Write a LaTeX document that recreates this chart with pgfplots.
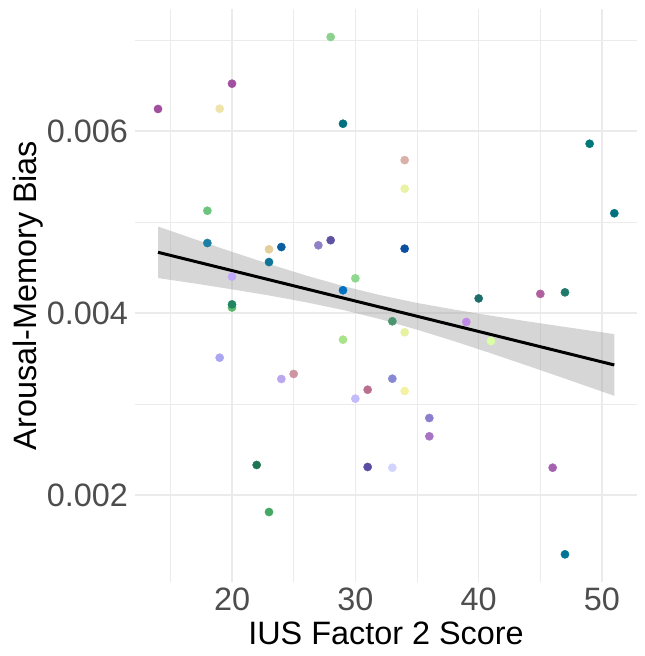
\documentclass[border=0pt]{standalone}
\usepackage{fontspec}
\setmainfont{Liberation Sans}
\usepackage{pgfplots}
\pgfplotsset{compat=1.18}
\definecolor{gridc}{HTML}{EBEBEB}
\definecolor{tickc}{HTML}{4D4D4D}
\definecolor{bandc}{HTML}{999999}
\definecolor{p01}{HTML}{A0509F}
\definecolor{p02}{HTML}{A0509F}
\definecolor{p03}{HTML}{EEE3A8}
\definecolor{p04}{HTML}{8CD28C}
\definecolor{p05}{HTML}{00727F}
\definecolor{p06}{HTML}{6DC47F}
\definecolor{p07}{HTML}{1A7FA2}
\definecolor{p08}{HTML}{E4CE9A}
\definecolor{p09}{HTML}{0A5FA0}
\definecolor{p10}{HTML}{0F7596}
\definecolor{p11}{HTML}{9080C8}
\definecolor{p12}{HTML}{5E52A2}
\definecolor{p13}{HTML}{C0A8FF}
\definecolor{p14}{HTML}{90D890}
\definecolor{p15}{HTML}{0070C0}
\definecolor{p16}{HTML}{D9B1AA}
\definecolor{p17}{HTML}{EAF2A4}
\definecolor{p18}{HTML}{0A4FA0}
\definecolor{p19}{HTML}{00787A}
\definecolor{p20}{HTML}{00727F}
\definecolor{p21}{HTML}{1D6E6A}
\definecolor{p22}{HTML}{B0609E}
\definecolor{p23}{HTML}{207A6A}
\definecolor{p24}{HTML}{5DBB6E}
\definecolor{p25}{HTML}{238461}
\definecolor{p26}{HTML}{A8E48A}
\definecolor{p27}{HTML}{AAA6F2}
\definecolor{p28}{HTML}{BBA6F0}
\definecolor{p29}{HTML}{CD94A2}
\definecolor{p30}{HTML}{B8708E}
\definecolor{p31}{HTML}{C4BBFA}
\definecolor{p32}{HTML}{1F7452}
\definecolor{p33}{HTML}{5A4CA3}
\definecolor{p34}{HTML}{45A865}
\definecolor{p35}{HTML}{4A9470}
\definecolor{p36}{HTML}{E6F2A2}
\definecolor{p37}{HTML}{C08AE8}
\definecolor{p38}{HTML}{DAFFA5}
\definecolor{p39}{HTML}{8888D6}
\definecolor{p40}{HTML}{F3F3A3}
\definecolor{p41}{HTML}{8A7FCC}
\definecolor{p42}{HTML}{A874C2}
\definecolor{p43}{HTML}{D2D4FF}
\definecolor{p44}{HTML}{A562B3}
\definecolor{p45}{HTML}{007595}
\begin{document}
\begin{tikzpicture}
\begin{axis}[
  scale only axis, width=502bp, height=573bp,
  xmin=12.133, xmax=52.84, ymin=0.001044, ymax=0.0073407,
  axis line style={draw=none},
  major tick length=0pt, minor tick length=0pt,
  xtick={20,30,40,50}, xticklabels={20,30,40,50},
  ytick={0.002,0.004,0.006}, yticklabels={0.002,0.004,0.006},
  minor xtick={15,25,35,45}, minor ytick={0.003,0.005,0.007},
  grid=both,
  major grid style={draw=gridc, line width=1.1bp},
  minor grid style={draw=gridc, line width=0.6bp},
  scaled y ticks=false,
  /pgf/number format/assume math mode=true,
  xticklabel style={font=\fontsize{32.5}{38}\selectfont, text=tickc, inner sep=0pt, anchor=north, yshift=-6bp},
  yticklabel style={font=\fontsize{32.5}{38}\selectfont, text=tickc, inner sep=0pt, anchor=east, xshift=-7bp},
  xlabel={IUS Factor 2 Score},
  ylabel={Arousal-Memory Bias},
  xlabel style={font=\fontsize{32.5}{38}\selectfont, inner sep=0pt, at={(axis description cs:0.5,-0.0693)}, anchor=north},
  ylabel style={font=\fontsize{32.5}{38}\selectfont, inner sep=0pt, at={(axis description cs:-0.2424,0.5)}, anchor=north},
  clip=false,
  pt/.style={only marks, mark=*, mark size=4.1bp, mark options={draw=#1, fill=#1, line width=0.4bp}},
]
\coordinate (sw) at (rel axis cs:0,0);
\addplot[pt=p01] coordinates {(14,0.006242)};
\addplot[pt=p02] coordinates {(20,0.00652)};
\addplot[pt=p03] coordinates {(19,0.006245)};
\addplot[pt=p04] coordinates {(28,0.007033)};
\addplot[pt=p05] coordinates {(29,0.00608)};
\addplot[pt=p06] coordinates {(18,0.005124)};
\addplot[pt=p07] coordinates {(18,0.004769)};
\addplot[pt=p08] coordinates {(23,0.0047)};
\addplot[pt=p09] coordinates {(24,0.004725)};
\addplot[pt=p10] coordinates {(23,0.00456)};
\addplot[pt=p11] coordinates {(27,0.004744)};
\addplot[pt=p12] coordinates {(28,0.0048)};
\addplot[pt=p13] coordinates {(20,0.0044)};
\addplot[pt=p14] coordinates {(30,0.004381)};
\addplot[pt=p15] coordinates {(29,0.00425)};
\addplot[pt=p16] coordinates {(34,0.00568)};
\addplot[pt=p17] coordinates {(34,0.005366)};
\addplot[pt=p18] coordinates {(34,0.004707)};
\addplot[pt=p19] coordinates {(49,0.00586)};
\addplot[pt=p20] coordinates {(51,0.005096)};
\addplot[pt=p21] coordinates {(40,0.00416)};
\addplot[pt=p22] coordinates {(45,0.00421)};
\addplot[pt=p23] coordinates {(47,0.004227)};
\addplot[pt=p24] coordinates {(20,0.00406)};
\addplot[pt=p25] coordinates {(20,0.004095)};
\addplot[pt=p26] coordinates {(29,0.003707)};
\addplot[pt=p27] coordinates {(19,0.003509)};
\addplot[pt=p28] coordinates {(24,0.003275)};
\addplot[pt=p29] coordinates {(25,0.00333)};
\addplot[pt=p30] coordinates {(31,0.003157)};
\addplot[pt=p31] coordinates {(30,0.003059)};
\addplot[pt=p32] coordinates {(22,0.00233)};
\addplot[pt=p33] coordinates {(31,0.002308)};
\addplot[pt=p34] coordinates {(23,0.001813)};
\addplot[pt=p35] coordinates {(33,0.003909)};
\addplot[pt=p36] coordinates {(34,0.003788)};
\addplot[pt=p37] coordinates {(39,0.003901)};
\addplot[pt=p38] coordinates {(41,0.003692)};
\addplot[pt=p39] coordinates {(33,0.003278)};
\addplot[pt=p40] coordinates {(34,0.003143)};
\addplot[pt=p41] coordinates {(36,0.002846)};
\addplot[pt=p42] coordinates {(36,0.002645)};
\addplot[pt=p43] coordinates {(33,0.0023)};
\addplot[pt=p44] coordinates {(46,0.0023)};
\addplot[pt=p45] coordinates {(47,0.001348)};
% confidence band
\addplot[draw=none, fill=bandc, fill opacity=0.4] coordinates {
(14,0.004950) (17,0.004810) (20,0.004672) (23,0.004539) (26,0.004412) (29,0.004297)
(32,0.004197) (35,0.004111) (38,0.004038) (41,0.003971) (44,0.003907) (47,0.003847) (51,0.003768)
(51,0.003090) (47,0.003279) (44,0.003419) (41,0.003557) (38,0.003691) (35,0.003817)
(32,0.003933) (29,0.004033) (26,0.004118) (23,0.004193) (20,0.004260) (17,0.004324) (14,0.004384)
} -- cycle;
\addplot[black, line width=3bp] coordinates {(14,0.004667) (51,0.003429)};
\end{axis}
\pgfresetboundingbox
\path[use as bounding box] (sw) ++(-135bp,-74bp) rectangle ++(645bp,656bp);
\end{tikzpicture}
\end{document}
